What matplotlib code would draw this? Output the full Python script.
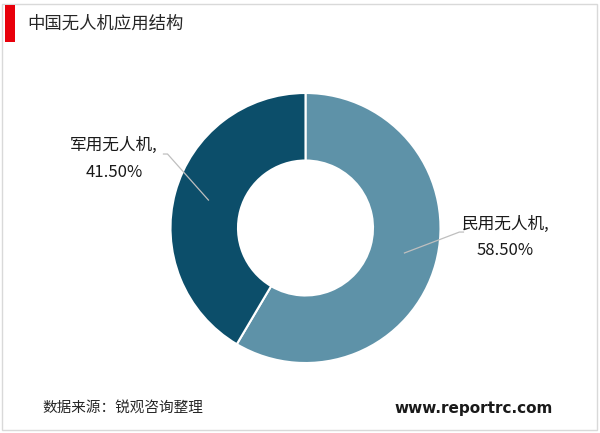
import matplotlib
matplotlib.use('Agg')
import matplotlib.pyplot as plt
from matplotlib.patches import Rectangle

plt.rcParams['font.family'] = ['Noto Sans CJK SC', 'DejaVu Sans']

title = '中国无人机应用结构'
labels = ['民用无人机', '军用无人机']
shares = [58.50, 41.50]
colors = ['#5e92a8', '#0c4e6a']
source = '数据来源：锐观咨询整理'
site = 'www.reportrc.com'

fig = plt.figure(figsize=(6, 4.33), dpi=100)

# frame + title bar
fig.patches.append(Rectangle((2/600, 3/433), 595/600, 426/433, transform=fig.transFigure,
                             fill=False, edgecolor='#d9d9d9', linewidth=1))
fig.patches.append(Rectangle((5/600, 1 - 42/433), 10/600, 37/433, transform=fig.transFigure,
                             facecolor='#e8000b', edgecolor='none'))
fig.text(27/600, 1 - 24/433, title, fontsize=12.5, color='#262626', va='center', ha='left')

# donut: center (305,228) px from top, radius 135 px
ax = fig.add_axes([170.5/600, 70/433, 270/600, 270/433])
ax.pie(shares, colors=colors, startangle=90, counterclock=False, radius=1,
       wedgeprops=dict(width=0.5, edgecolor='white', linewidth=1.5))
ax.set_xlim(-1, 1)
ax.set_ylim(-1, 1)
ax.set_aspect('equal')
ax.axis('off')

# leader lines and labels
ax.plot([0.733, 1.14, 1.17], [-0.185, -0.03, -0.03], color='#bfbfbf', lw=0.9, clip_on=False)
ax.plot([-1.052, -1.022, -0.719], [0.548, 0.548, 0.207], color='#bfbfbf', lw=0.9, clip_on=False)

ax.text(1.48, -0.07, '%s,\n%.2f%%' % (labels[0], shares[0]), ha='center', va='center',
        fontsize=12, color='#1a1a1a', linespacing=1.75, clip_on=False)
ax.text(-1.42, 0.51, '%s,\n%.2f%%' % (labels[1], shares[1]), ha='center', va='center',
        fontsize=12, color='#1a1a1a', linespacing=1.75, clip_on=False)

# footer
fig.text(42/600, 1 - 408/433, source, fontsize=10.5, color='#262626', va='center', ha='left')
fig.text(553/600, 1 - 408/433, site, fontsize=11, fontweight='bold', color='#1a1a1a',
         va='center', ha='right', family=['DejaVu Sans'])

fig.savefig('out.png', dpi=100)
